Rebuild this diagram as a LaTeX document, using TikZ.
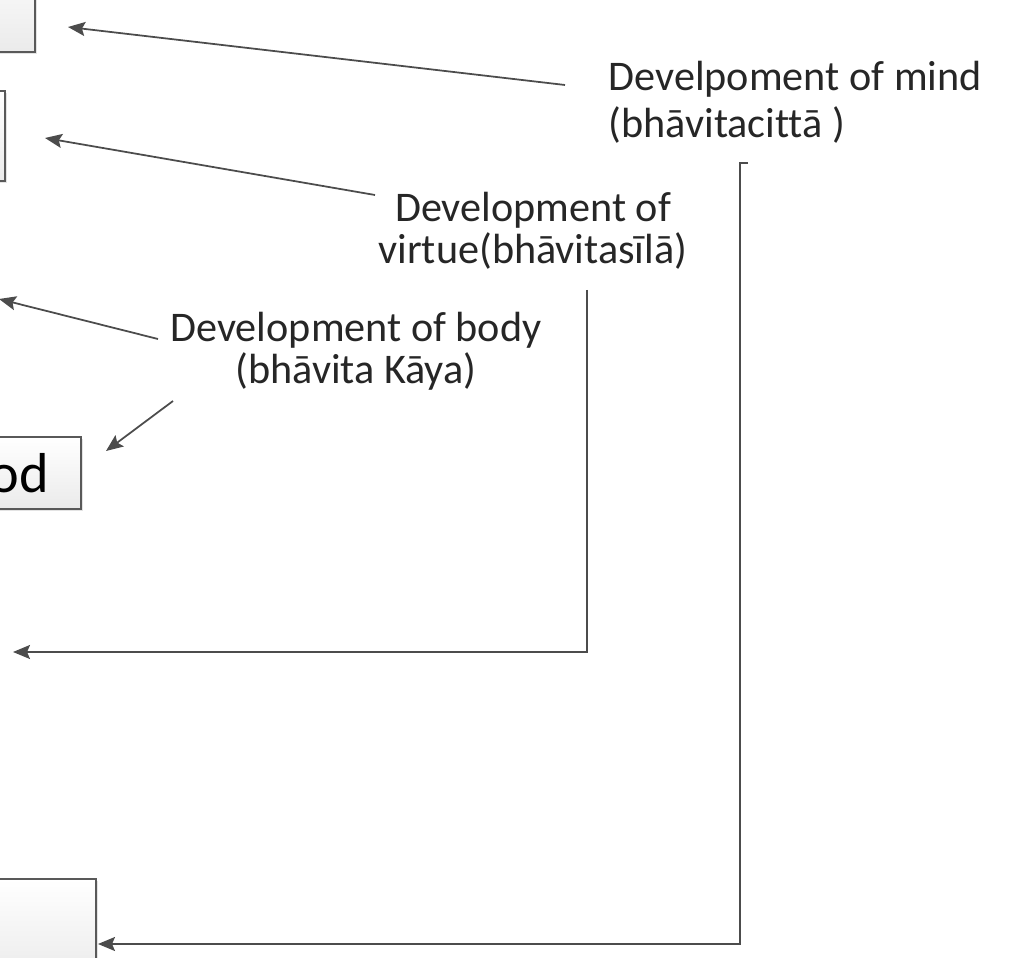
\documentclass[tikz,border=0pt]{standalone}
\usepackage{fontspec}
\setmainfont{Carlito}[Ligatures=NoCommon]
\usetikzlibrary{arrows.meta,shadows}

\begin{document}
\begin{tikzpicture}[x=0.01cm, y=-0.01cm, >={Stealth[length=0.17cm,width=0.14cm,inset=0.03cm]},
	lbl/.style={font=\fontsize{12}{12.2}\selectfont, text=black!85, inner sep=0pt},
	box/.style={draw=black!65, line width=0.55pt, top color=white, bottom color=black!8,
		drop shadow={shadow xshift=0.7pt, shadow yshift=-0.7pt, fill=black!18, opacity=0.6}},
	arr/.style={->, draw=black!70, line width=0.5pt}]
	\useasboundingbox (0,0) rectangle (1009,958);
	% boxes cut by the left edge
	\node[box, minimum width=2cm, minimum height=1cm, anchor=south east] (topbox) at (36,53) {};
	\node[box, minimum width=2cm, minimum height=0.9cm, anchor=north east] (secondbox) at (6,90) {};
	\node[box, font=\fontsize{16}{16}\selectfont, minimum height=0.72cm, inner xsep=0.32cm, anchor=east] (foodbox) at (82,473) {od};
	\node[box, minimum width=2cm, minimum height=1cm, anchor=north east] (lastbox) at (97,878) {};
	\coordinate (bodytip) at (-1,299);
	\coordinate (virtuetip) at (13,652);
	% labels
	\node[lbl, align=left, anchor=north west] (mind) at (608,61) {Develpoment of mind\\[1.1pt](bhāvitacittā )};
	\node[lbl, align=center, anchor=north] (virtue) at (533,191) {Development of\\virtue(bhāvitasīlā)};
	\node[lbl, align=center, anchor=north] (body) at (356,311) {Development of body\\(bhāvita Kāya)};
	% connectors
	\draw[arr] ([shift={(-43,24)}]mind.north west) -- ([shift={(32,-26)}]topbox.south east);
	\draw[arr] ([shift={(-158,4)}]virtue.north) -- ([shift={(39,2)}]secondbox.east);
	\draw[arr] ([shift={(-198,28)}]body.north) -- (bodytip);
	\draw[arr] ([shift={(-183,90)}]body.north) -- ([shift={(24,15)}]foodbox.north east);
	\draw[arr] ([shift={(54,99)}]virtue.north) |- (virtuetip);
	\draw[arr] ([shift={(140,102)}]mind.north west) -- ++(-8,0) |- ([shift={(1,66)}]lastbox.north east);
\end{tikzpicture}
\end{document}
